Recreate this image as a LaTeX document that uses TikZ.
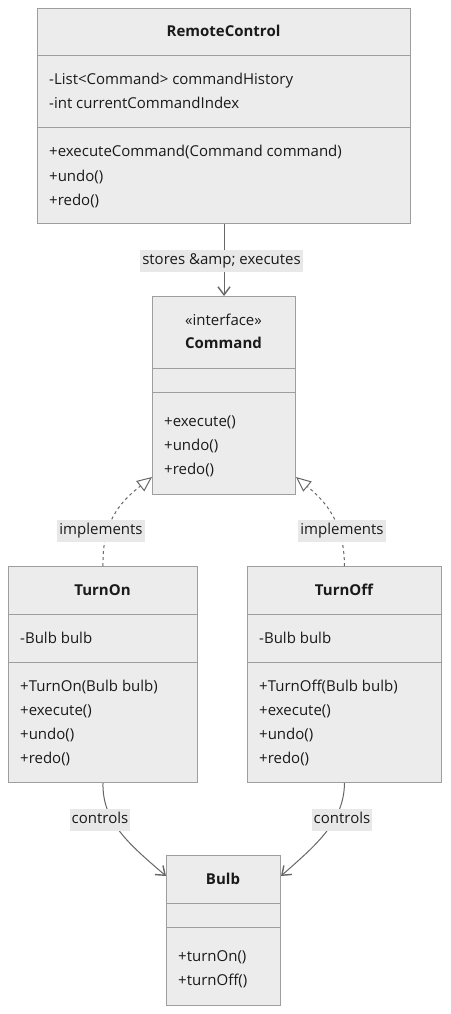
\documentclass[tikz,border=0pt]{standalone}
\usepackage{fontspec}
\setmainfont{Open Sans}
\usetikzlibrary{arrows.meta}

\definecolor{boxfill}{HTML}{ECECEC}
\definecolor{boxline}{HTML}{9E9E9E}
\definecolor{lblfill}{HTML}{E8E8E8}
\definecolor{linkcol}{HTML}{666666}
\definecolor{txtcol}{HTML}{1A1A1A}

\begin{document}
\begin{tikzpicture}[x=1pt, y=-1pt,
  classbox/.style={draw=boxline, fill=boxfill, line width=1pt, inner sep=0pt, anchor=north west},
  divider/.style={draw=boxline, line width=1pt},
  member/.style={anchor=base west, inner sep=0pt, text=txtcol, font=\fontsize{15}{17}\selectfont},
  classname/.style={anchor=base, inner sep=0pt, text=txtcol, font=\fontsize{15}{17}\selectfont\bfseries},
  stereo/.style={anchor=base, inner sep=0pt, text=txtcol, font=\fontsize{15}{17}\selectfont},
  lbl/.style={fill=lblfill, inner xsep=2pt, inner ysep=3.5pt, text height=11pt, text depth=4pt, text=txtcol, font=\fontsize{15}{17}\selectfont},
  link/.style={draw=linkcol, line width=1pt},
  realize/.style={link, dash pattern=on 3pt off 3pt}]
\useasboundingbox (0,0) rectangle (450,1014);

%the class boxes
\node [classbox, minimum width=373pt, minimum height=215pt] (remote) at (37,8) {};
\node [classbox, minimum width=143pt, minimum height=198pt] (command) at (152,296) {};
\node [classbox, minimum width=189pt, minimum height=216pt] (turnon) at (8,566) {};
\node [classbox, minimum width=194pt, minimum height=216pt] (turnoff) at (247,566) {};
\node [classbox, minimum width=114pt, minimum height=150pt] (bulb) at (166,855) {};

%the compartments
\draw [divider] (37,56) -- (410,56);
\draw [divider] (37,128) -- (410,128);
\draw [divider] (152,368) -- (295,368);
\draw [divider] (152,392) -- (295,392);
\draw [divider] (8,614) -- (197,614);
\draw [divider] (8,662) -- (197,662);
\draw [divider] (247,614) -- (441,614);
\draw [divider] (247,662) -- (441,662);
\draw [divider] (166,903) -- (280,903);
\draw [divider] (166,927) -- (280,927);

%RemoteControl
\node [classname] (remotename) at (223.5,37) {RemoteControl};
\node [member] (remoteattra) at (49,85) {-List<Command> commandHistory};
\node [member] (remoteattrb) at (49,109) {-int currentCommandIndex};
\node [member] (remoteopa) at (49,157) {+executeCommand(Command command)};
\node [member] (remoteopb) at (49,181) {+undo()};
\node [member] (remoteopc) at (49,205) {+redo()};

%Command
\node [stereo] (commandstereo) at (223.5,325) {«interface»};
\node [classname] (commandname) at (223.5,348) {Command};
\node [member] (commandopa) at (164,426) {+execute()};
\node [member] (commandopb) at (164,450) {+undo()};
\node [member] (commandopc) at (164,474) {+redo()};

%TurnOn
\node [classname] (turnonname) at (102.5,595) {TurnOn};
\node [member] (turnonattr) at (20,643) {-Bulb bulb};
\node [member] (turnonopa) at (20,691) {+TurnOn(Bulb bulb)};
\node [member] (turnonopb) at (20,715) {+execute()};
\node [member] (turnonopc) at (20,739) {+undo()};
\node [member] (turnonopd) at (20,763) {+redo()};

%TurnOff
\node [classname] (turnoffname) at (344,595) {TurnOff};
\node [member] (turnoffattr) at (259,643) {-Bulb bulb};
\node [member] (turnoffopa) at (259,691) {+TurnOff(Bulb bulb)};
\node [member] (turnoffopb) at (259,715) {+execute()};
\node [member] (turnoffopc) at (259,739) {+undo()};
\node [member] (turnoffopd) at (259,763) {+redo()};

%Bulb
\node [classname] (bulbname) at (223,884) {Bulb};
\node [member] (bulbopa) at (178,961) {+turnOn()};
\node [member] (bulbopb) at (178,985) {+turnOff()};

%the ends of the links
\coordinate (implleft) at ([yshift=18pt]command.south west);
\coordinate (implright) at ([yshift=18pt]command.south east);
\coordinate (ctlleft) at ([yshift=-21pt]bulb.north west);
\coordinate (ctlright) at ([yshift=-21pt]bulb.north east);

%the links
\draw [link, -{Straight Barb[length=8pt, width=12pt, line width=1.4pt]}] (remote.south) -- (command.north);
\draw [realize, -{Triangle[open, length=15pt, width=13pt]}] (turnon.north) .. controls (102,522) and (120,502) .. (implleft);
\draw [realize, -{Triangle[open, length=15pt, width=13pt]}] (turnoff.north) .. controls (344,522) and (326,502) .. (implright);
\draw [link, -{Straight Barb[length=8pt, width=12pt, line width=1.4pt]}] (turnon.south) .. controls (102,822) and (130,845) .. (ctlleft);
\draw [link, -{Straight Barb[length=8pt, width=12pt, line width=1.4pt]}] (turnoff.south) .. controls (344,822) and (316,845) .. (ctlright);

%the link labels
\node [lbl] (storeslbl) at (221.5,261) {stores \&amp; executes};
\node [lbl] (impllbla) at (101,531) {implements};
\node [lbl] (impllblb) at (342,531) {implements};
\node [lbl] (ctllbla) at (100,820) {controls};
\node [lbl] (ctllblb) at (342,820) {controls};
\end{tikzpicture}
\end{document}
